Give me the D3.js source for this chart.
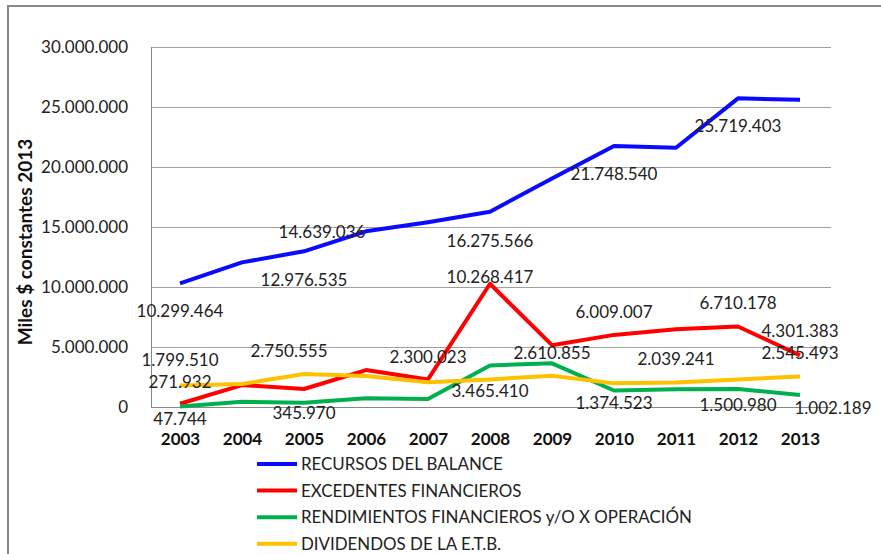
<!DOCTYPE html>
<html><head><meta charset="utf-8">
<script src="https://cdn.jsdelivr.net/npm/d3@7"></script>
<style>body{margin:0;background:#fff}svg{display:block}</style>
</head><body>
<script>
const years = ["2003","2004","2005","2006","2007","2008","2009","2010","2011","2012","2013"];
const recursos = [10299464,12050000,12976535,14639036,15400000,16275566,19050000,21748540,21600000,25719403,25600000];
const excedentes = [271932,1830000,1500000,3080000,2300023,10268417,5150000,6009007,6470000,6710178,4301383];
const rendimientos = [47744,440000,345970,720000,670000,3465410,3640000,1374523,1470000,1500980,1002189];
const dividendos = [1799510,1920000,2750555,2580000,2060000,2300000,2610855,1970000,2039241,2300000,2545493];
const seriesNames = ["RECURSOS DEL BALANCE","EXCEDENTES FINANCIEROS","RENDIMIENTOS FINANCIEROS y/O X OPERACIÓN","DIVIDENDOS DE LA E.T.B."];
const yTicks = [0,5000000,10000000,15000000,20000000,25000000,30000000];
const yTitle = "Miles $ constantes 2013";
// which points carry a data label: [series index, year index]
const labelled = [[0,0],[0,2],[0,3],[0,5],[0,7],[0,9],
  [1,0],[1,4],[1,5],[1,7],[1,9],[1,10],
  [2,0],[2,2],[2,5],[2,7],[2,9],[2,10],
  [3,0],[3,2],[3,6],[3,8],[3,10]];

const series = [recursos, excedentes, rendimientos, dividendos];
const colors = ["#0a0aff","#ff0000","#00b050","#ffc000"];
// label placement offsets (layout only)
const labelOffset = {
  "0,0":[0,28],"0,2":[0,29],"0,3":[-44,1],"0,5":[0,29],"0,7":[0,28],"0,9":[0,28],
  "1,0":[0,-22],"1,4":[0,-22],"1,5":[0,-7],"1,7":[0,-23],"1,9":[0,-23],"1,10":[0,-24],
  "2,0":[0,13],"2,2":[0,10],"2,5":[0,26],"2,7":[0,13],"2,9":[0,16],"2,10":[33,13],
  "3,0":[0,-25],"3,2":[-15,-23],"3,6":[0,-23],"3,8":[0,-23],"3,10":[0,-23]
};

const W = 881, H = 554;
const svg = d3.select("body").append("svg").attr("width",W).attr("height",H);
const font = "Lato, 'Open Sans', sans-serif";

// outer chart border
svg.append("path").attr("d","M8,560 L8,6 L890,6").attr("fill","none").attr("stroke","#888").attr("stroke-width",2);

const pL = 151, pR = 831, pT = 47, pB = 407;
const x = d3.scalePoint().domain(years).range([149, 831]).padding(0.5);
const y = d3.scaleLinear().domain([0,30000000]).range([pB, pT]);
const fmt = v => d3.format(",")(v).replace(/,/g,".");

// grid
svg.append("g").selectAll("line").data(yTicks).join("line")
  .attr("x1",pL).attr("x2",pR).attr("y1",d=>y(d)+0.5).attr("y2",d=>y(d)+0.5)
  .attr("stroke",d=>d===0?"#888":"#a0a0a0").attr("stroke-width",1);
svg.append("line").attr("x1",pL+0.5).attr("x2",pL+0.5).attr("y1",pT).attr("y2",pB+0.5).attr("stroke","#888");

// y axis labels
const yAxis = d3.axisLeft(y).tickValues(yTicks).tickFormat(fmt).tickSize(0).tickPadding(23);
const gy = svg.append("g").attr("transform",`translate(${pL},0)`).call(yAxis);
gy.select(".domain").remove();
gy.selectAll("text").attr("font-family",font).attr("font-size",17).attr("fill","#222");

// x axis labels
const xAxis = d3.axisBottom(x).tickSize(0).tickPadding(26);
const gx = svg.append("g").attr("transform",`translate(0,${pB})`).call(xAxis);
gx.select(".domain").remove();
gx.selectAll("text").attr("font-family",font).attr("font-size",17).attr("font-weight","bold").attr("fill","#111");

// y title
svg.append("text").attr("transform","translate(25,242) rotate(-90)").attr("text-anchor","middle").attr("dy","0.35em")
  .attr("font-family",font).attr("font-size",19).attr("font-weight","bold").attr("fill","#111").text(yTitle);

// lines
const line = d3.line().x((d,i)=>x(years[i])).y(d=>y(d));
series.forEach((s,k)=>{
  svg.append("path").datum(s).attr("d",line).attr("fill","none").attr("stroke",colors[k])
    .attr("stroke-width",4).attr("stroke-linejoin","round");
});

// data labels
svg.append("g").selectAll("text").data(labelled).join("text")
  .attr("x",d=>x(years[d[1]]) + labelOffset[d.join(",")][0])
  .attr("y",d=>y(series[d[0]][d[1]]) + labelOffset[d.join(",")][1])
  .attr("dy","0.35em").attr("text-anchor","middle")
  .attr("font-family",font).attr("font-size",17).attr("fill","#222")
  .text(d=>fmt(series[d[0]][d[1]]));

// legend
const lg = svg.append("g");
seriesNames.forEach((n,k)=>{
  const ly = 464 + k*26.6;
  lg.append("line").attr("x1",257).attr("x2",297).attr("y1",ly).attr("y2",ly).attr("stroke",colors[k]).attr("stroke-width",4);
  lg.append("text").attr("x",301).attr("y",ly).attr("dy","0.35em").attr("font-family",font).attr("font-size",16.9).attr("fill","#222").text(n);
});
</script>
</body></html>
